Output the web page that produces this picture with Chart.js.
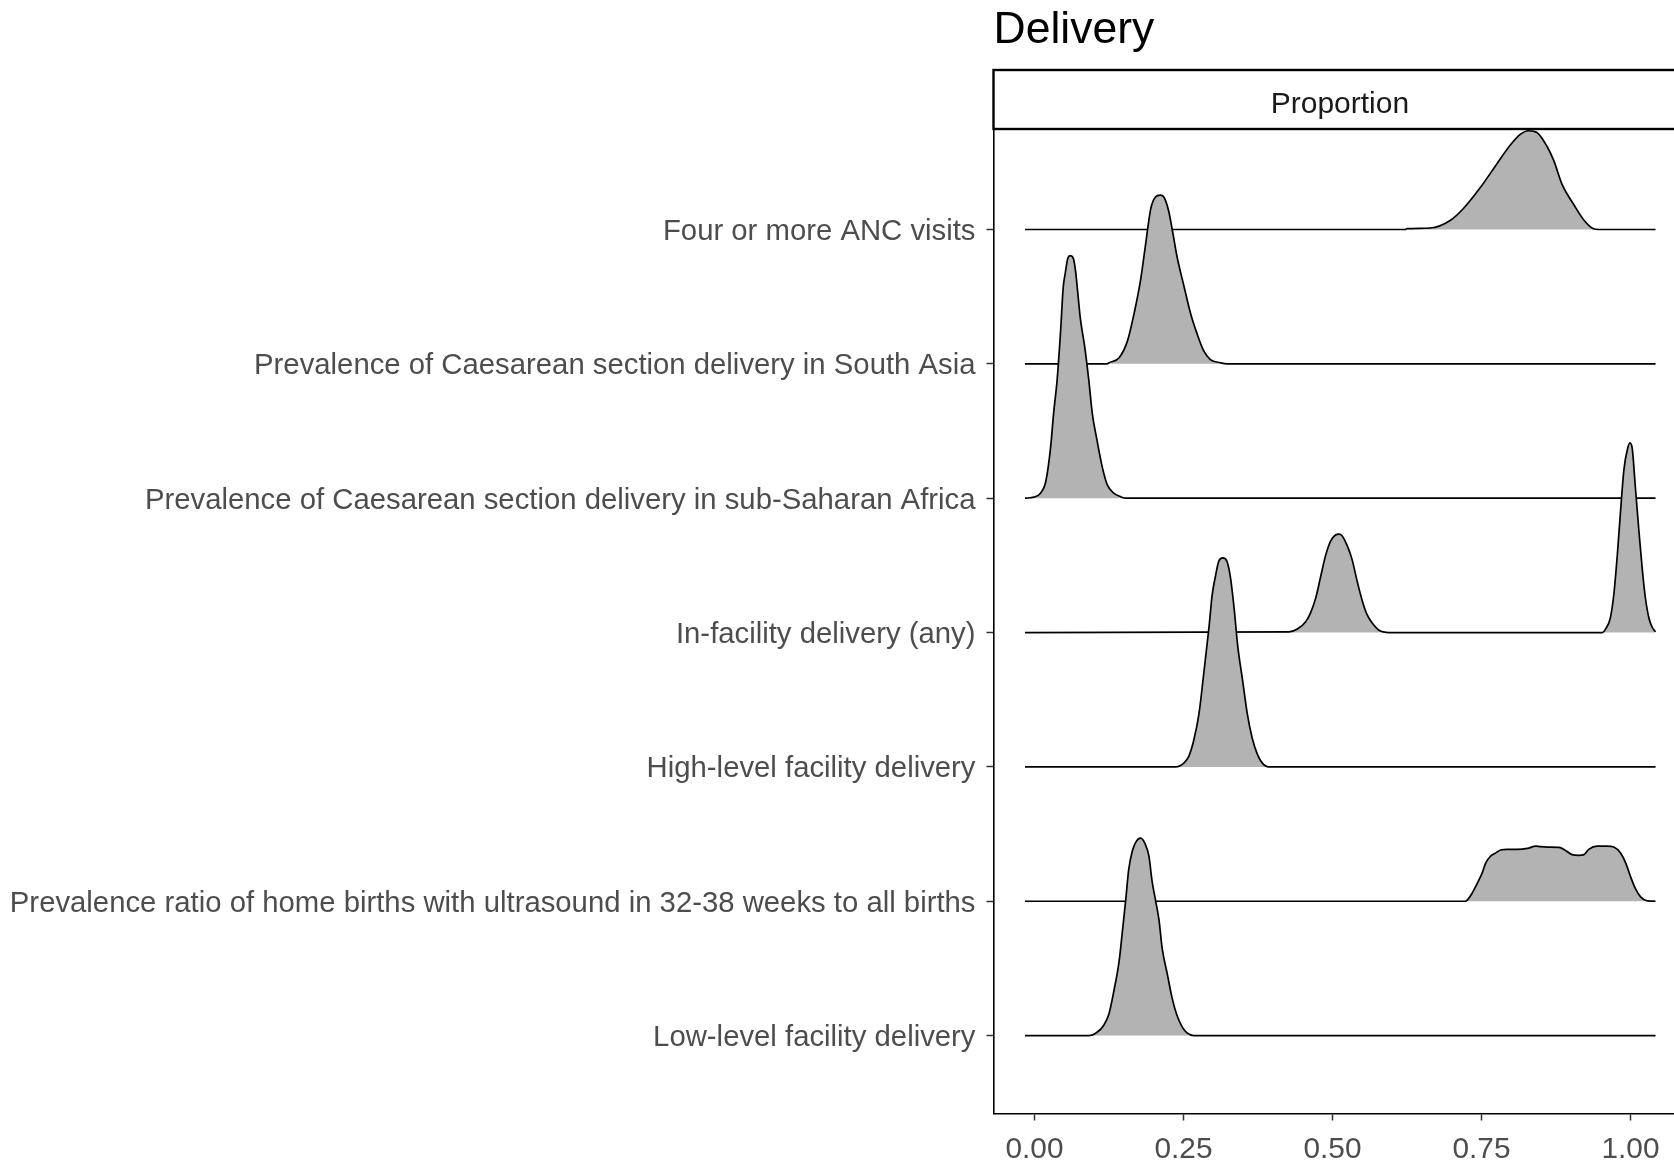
<!DOCTYPE html>
<html>
<head>
<meta charset="utf-8">
<title>Delivery</title>
<script src="https://cdn.jsdelivr.net/npm/chart.js@4.4.1/dist/chart.umd.min.js"></script>
<style>
  html, body { margin: 0; padding: 0; overflow: hidden; background: #ffffff; }
  #wrap { position: relative; width: 1700px; height: 1163px; }
</style>
</head>
<body>
<div id="wrap"><canvas id="chart"></canvas></div>
<script>
// Indicator rows, listed top to bottom
const categories = [
  "Four or more ANC visits",
  "Prevalence of Caesarean section delivery in South Asia",
  "Prevalence of Caesarean section delivery in sub-Saharan Africa",
  "In-facility delivery (any)",
  "High-level facility delivery",
  "Prevalence ratio of home births with ultrasound in 32-38 weeks to all births",
  "Low-level facility delivery"
];

const xTicks = [0, 0.25, 0.5, 0.75, 1.0];

// Density ridges: proportion grid and ridge height (in row units)
const ancX = [-0.016, 0.622, 0.625, 0.664, 0.698, 0.720, 0.748, 0.776, 0.799, 0.815, 0.829, 0.843, 0.860, 0.871, 0.885, 0.905, 0.922, 0.936, 0.947, 1.042];
const ancH = [0, 0, 0.006, 0.011, 0.069, 0.158, 0.312, 0.490, 0.632, 0.708, 0.735, 0.722, 0.618, 0.516, 0.338, 0.184, 0.069, 0.010, 0, 0];

const csSouthAsiaX = [-0.016, 0.122, 0.125, 0.142, 0.156, 0.167, 0.178, 0.186, 0.195, 0.203, 0.211, 0.217, 0.225, 0.231, 0.239, 0.251, 0.262, 0.273, 0.284, 0.295, 0.312, 0.323, 1.042];
const csSouthAsiaH = [0, 0, 0.008, 0.046, 0.171, 0.373, 0.625, 0.877, 1.154, 1.242, 1.256, 1.242, 1.140, 1.002, 0.801, 0.574, 0.373, 0.221, 0.096, 0.032, 0.008, 0, 0];

const csSSAfricaX = [-0.016, -0.001, 0.010, 0.019, 0.027, 0.032, 0.038, 0.044, 0.048, 0.052, 0.056, 0.060, 0.065, 0.069, 0.073, 0.077, 0.084, 0.091, 0.097, 0.105, 0.114, 0.122, 0.133, 0.144, 0.153, 1.042];
const csSSAfricaH = [0, 0.008, 0.037, 0.126, 0.378, 0.630, 0.882, 1.259, 1.561, 1.687, 1.787, 1.805, 1.787, 1.687, 1.510, 1.334, 1.133, 0.882, 0.630, 0.428, 0.226, 0.101, 0.037, 0.012, 0, 0];

const facilityAnyX = [-0.016, 0.427, 0.441, 0.455, 0.463, 0.472, 0.480, 0.488, 0.497, 0.505, 0.511, 0.516, 0.525, 0.533, 0.541, 0.550, 0.558, 0.567, 0.578, 0.595, 0.953, 0.958, 0.966, 0.972, 0.978, 0.983, 0.989, 0.995, 0.999, 1.003, 1.008, 1.014, 1.020, 1.025, 1.031, 1.036, 1.042];
const facilityAnyH = [0, 0.005, 0.026, 0.081, 0.145, 0.260, 0.414, 0.567, 0.682, 0.726, 0.733, 0.721, 0.643, 0.541, 0.388, 0.235, 0.133, 0.069, 0.017, 0, 0, 0.025, 0.106, 0.283, 0.585, 0.887, 1.215, 1.367, 1.412, 1.367, 1.089, 0.761, 0.459, 0.257, 0.106, 0.043, 0.005];

const highLevelX = [-0.016, 0.237, 0.251, 0.259, 0.267, 0.276, 0.284, 0.293, 0.298, 0.304, 0.309, 0.316, 0.323, 0.329, 0.335, 0.341, 0.349, 0.357, 0.365, 0.374, 0.382, 0.393, 1.042];
const highLevelH = [0, 0, 0.030, 0.080, 0.194, 0.396, 0.697, 1.050, 1.277, 1.428, 1.529, 1.556, 1.529, 1.403, 1.176, 0.899, 0.648, 0.396, 0.219, 0.093, 0.030, 0, 0];

const homeRatioX = [-0.016, 0.723, 0.726, 0.734, 0.743, 0.751, 0.757, 0.765, 0.774, 0.782, 0.793, 0.810, 0.827, 0.841, 0.849, 0.860, 0.880, 0.891, 0.902, 0.913, 0.922, 0.930, 0.944, 0.961, 0.972, 0.983, 0.992, 1.000, 1.008, 1.017, 1.028, 1.042];
const homeRatioH = [0, 0, 0.008, 0.058, 0.134, 0.209, 0.284, 0.335, 0.360, 0.381, 0.386, 0.386, 0.393, 0.410, 0.406, 0.403, 0.401, 0.378, 0.347, 0.342, 0.347, 0.386, 0.410, 0.410, 0.403, 0.360, 0.284, 0.184, 0.095, 0.032, 0.003, 0];

const lowLevelX = [-0.016, 0.091, 0.105, 0.116, 0.125, 0.133, 0.142, 0.147, 0.153, 0.158, 0.164, 0.170, 0.178, 0.186, 0.192, 0.197, 0.203, 0.209, 0.214, 0.223, 0.231, 0.239, 0.248, 0.256, 0.267, 1.042];
const lowLevelH = [0, 0, 0.025, 0.075, 0.163, 0.328, 0.554, 0.755, 1.008, 1.234, 1.372, 1.440, 1.469, 1.423, 1.335, 1.158, 1.008, 0.857, 0.655, 0.454, 0.277, 0.151, 0.063, 0.020, 0, 0];

// Ridge series in the same top-to-bottom order as the categories
const ridges = [
  [ancX, ancH],
  [csSouthAsiaX, csSouthAsiaH],
  [csSSAfricaX, csSSAfricaH],
  [facilityAnyX, facilityAnyH],
  [highLevelX, highLevelH],
  [homeRatioX, homeRatioH],
  [lowLevelX, lowLevelH]
];

const FONT = '"Liberation Sans", Arial, Helvetica, sans-serif';
Chart.defaults.font.family = FONT;

const nRows = categories.length;
// row position: bottom row sits at 1, top row at nRows
const rowPos = i => nRows - i;

// Lower ridges are listed first so they are painted over the ones above them
const datasets = [];
for (let i = nRows - 1; i >= 0; i--) {
  const [xs, hs] = ridges[i];
  const base = rowPos(i);
  datasets.push({
    label: categories[i],
    data: xs.map((x, k) => ({ x: x, y: base + hs[k] })),
    borderColor: '#000000',
    borderWidth: 1.7,
    backgroundColor: '#B3B3B3',
    fill: { value: base },
    pointRadius: 0,
    pointHoverRadius: 0,
    cubicInterpolationMode: 'monotone'
  });
}

// Plot title and facet strip above the panel
const stripPlugin = {
  id: 'stripAndTitle',
  afterDraw(chart) {
    const { ctx, chartArea } = chart;
    const left = chartArea.left, right = chartArea.right;
    const stripH = 59;
    const stripTop = chartArea.top - stripH;
    ctx.save();
    ctx.fillStyle = '#ffffff';
    ctx.fillRect(left, stripTop, right - left, stripH);
    ctx.lineWidth = 2.4;
    ctx.strokeStyle = '#000000';
    ctx.strokeRect(left, stripTop, right - left, stripH);
    ctx.fillStyle = '#1A1A1A';
    ctx.font = '30px ' + FONT;
    ctx.textAlign = 'center';
    ctx.textBaseline = 'middle';
    ctx.fillText('Proportion', (left + right) / 2, stripTop + stripH / 2 + 5);
    ctx.fillStyle = '#000000';
    ctx.font = '44.5px ' + FONT;
    ctx.textAlign = 'left';
    ctx.textBaseline = 'alphabetic';
    ctx.fillText('Delivery', left, 43);
    ctx.restore();
  }
};

new Chart(document.getElementById('chart'), {
  type: 'line',
  data: { datasets: datasets },
  plugins: [stripPlugin],
  options: {
    responsive: true,
    maintainAspectRatio: false,
    animation: false,
    events: [],
    layout: { padding: { top: 129, right: 13.7, left: 0, bottom: 0 } },
    plugins: {
      legend: { display: false },
      tooltip: { enabled: false },
      title: { display: false }
    },
    scales: {
      x: {
        type: 'linear',
        min: -0.0688,
        max: 1.0936,
        afterBuildTicks: s => { s.ticks = xTicks.map(v => ({ value: v })); },
        afterFit: s => { s.height = 49.5; },
        ticks: {
          autoSkip: false,
          maxRotation: 0,
          padding: 11,
          color: '#4D4D4D',
          font: { size: 29.8 },
          callback: v => Number(v).toFixed(2)
        },
        grid: {
          drawOnChartArea: false,
          drawTicks: true,
          tickLength: 7,
          tickColor: '#333333',
          tickWidth: 1.5
        },
        border: { display: true, color: '#000000', width: 1.6 }
      },
      y: {
        type: 'linear',
        min: 0.42,
        max: 7.748,
        afterBuildTicks: s => { s.ticks = categories.map((_, i) => ({ value: rowPos(i) })); },
        afterFit: s => { s.width = 993.5; },
        ticks: {
          autoSkip: false,
          padding: 11,
          labelOffset: 2.5,
          color: '#4D4D4D',
          font: { size: 29.3 },
          callback: v => categories[nRows - Math.round(v)]
        },
        grid: {
          drawOnChartArea: false,
          drawTicks: true,
          tickLength: 7,
          tickColor: '#333333',
          tickWidth: 1.5
        },
        border: { display: true, color: '#000000', width: 1.6 }
      }
    }
  }
});
</script>
</body>
</html>
